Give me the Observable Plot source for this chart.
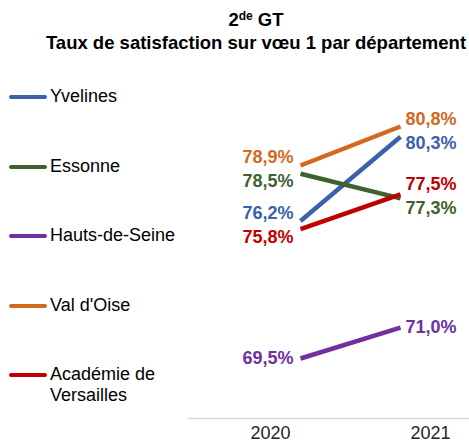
<!DOCTYPE html>
<html><head><meta charset="utf-8">
<script src="https://cdn.jsdelivr.net/npm/d3@7"></script>
<script src="https://cdn.jsdelivr.net/npm/@observablehq/plot@0.6"></script>
<style>
body{margin:0;background:#fff;font-family:"Liberation Sans",Arial,sans-serif;}
#wrap{position:relative;width:469px;height:446px;overflow:hidden;}
#chart{position:absolute;left:0;top:0;}
#title{position:absolute;left:0;width:512px;top:8px;text-align:center;font-weight:bold;font-size:18.5px;line-height:23px;color:#000;}
#title sup{font-size:12px;vertical-align:6px;line-height:0;}
.leg{position:absolute;left:9px;font-size:18px;line-height:21px;color:#000;}
.leg .sw{position:absolute;left:0;top:9px;width:38px;height:4px;border-radius:2px;}
.leg .tx{position:absolute;left:41px;top:0;white-space:nowrap;}
</style></head>
<body>
<div id="wrap">
  <div id="chart"></div>
  <div id="title"></div>
  <div id="legend"></div>
</div>
<script>
const titre1 = ["2", "de", " GT"];
const titre2 = "Taux de satisfaction sur vœu 1 par département";
const annees = [2020, 2021];
const departements = ["Yvelines", "Essonne", "Hauts-de-Seine", "Val d'Oise", "Académie de Versailles"];
const legendeLignes = [["Yvelines"], ["Essonne"], ["Hauts-de-Seine"], ["Val d'Oise"], ["Académie de", "Versailles"]];
const taux2020 = [76.2, 78.5, 69.5, 78.9, 75.8];
const taux2021 = [80.3, 77.3, 71.0, 80.8, 77.5];
const couleurs = ["#3A62AC", "#3F6130", "#7030A0", "#D2691E", "#C00000"];

// Title
document.getElementById("title").innerHTML =
  titre1[0] + "<sup>" + titre1[1] + "</sup>" + titre1[2] + "<br>" + titre2;

// Legend
const leg = document.getElementById("legend");
departements.forEach((d, i) => {
  const div = document.createElement("div");
  div.className = "leg";
  div.style.top = (86 + i * 69.5) + "px";
  div.innerHTML = `<div class="sw" style="background:${couleurs[i]}"></div><div class="tx">${legendeLignes[i].join("<br>")}</div>`;
  leg.appendChild(div);
});

// Data rows
const rows = [];
departements.forEach((d, i) => {
  rows.push({dep: d, annee: annees[0], taux: taux2020[i], couleur: couleurs[i]});
  rows.push({dep: d, annee: annees[1], taux: taux2021[i], couleur: couleurs[i]});
});

const yOpts = {domain: [69.5, 80.8], range: [358, 126]};
const yScale = Plot.scale({y: yOpts});

// Label de-overlap (computed dodge)
const labels = [];
for (const an of annees) {
  const rs = rows.filter(r => r.annee === an).map(r => ({...r, py: yScale.apply(r.taux)}));
  rs.sort((a, b) => a.py - b.py);
  const gap = 24;
  for (let it = 0; it < 50; it++) {
    for (let k = 1; k < rs.length; k++) {
      const ov = gap - (rs[k].py - rs[k - 1].py);
      if (ov > 0) { rs[k].py += ov / 2; rs[k - 1].py -= ov / 2; }
    }
  }
  rs.forEach(r => labels.push({...r, ly: yScale.invert(r.py)}));
}
const fmt = v => v.toFixed(1).replace(".", ",") + "%";

const plot = Plot.plot({
  width: 469,
  height: 446,
  marginLeft: 188,
  marginRight: 0,
  marginTop: 60,
  marginBottom: 28,
  x: {domain: annees, range: [300, 400], axis: null},
  y: {...yOpts, axis: null},
  style: {fontFamily: "'Liberation Sans', Arial, sans-serif", background: "transparent"},
  marks: [
    Plot.frame({anchor: "bottom", stroke: "#d9d9d9", strokeWidth: 1.5}),
    Plot.line(rows, {x: "annee", y: "taux", z: "dep", stroke: "couleur", strokeWidth: 4.5, strokeLinecap: "butt"}),
    Plot.text(labels.filter(d => d.annee === annees[0]), {x: "annee", y: "ly", text: d => fmt(d.taux), fill: "couleur", textAnchor: "end", dx: -7, fontSize: 18, fontWeight: "bold"}),
    Plot.text(labels.filter(d => d.annee === annees[1]), {x: "annee", y: "ly", text: d => fmt(d.taux), fill: "couleur", textAnchor: "start", dx: 5, fontSize: 18, fontWeight: "bold"}),
    Plot.text([annees[0]], {x: d => d, frameAnchor: "bottom", dy: 20, dx: -30, text: d => String(d), fontSize: 18, fill: "#262626"}),
    Plot.text([annees[1]], {x: d => d, frameAnchor: "bottom", dy: 20, dx: 30, text: d => String(d), fontSize: 18, fill: "#262626"})
  ]
});
document.getElementById("chart").appendChild(plot);
</script>
</body></html>
